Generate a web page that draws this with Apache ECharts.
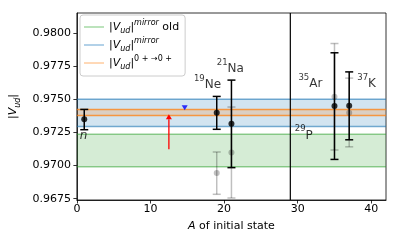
<!DOCTYPE html>
<html><head><meta charset="utf-8">
<script src="https://cdn.jsdelivr.net/npm/echarts@6/dist/echarts.min.js"></script>
<style>html,body{margin:0;padding:0;background:#fff}#c{width:399px;height:243px}</style>
</head><body><div id="c"></div>
<script>
const FONT = 'DejaVu Sans';
// axes
const xRange = [0, 42];
const yRange = [0.9674, 0.9815];
const xTickValues = [0, 10, 20, 30, 40];
const yTickValues = [0.9675, 0.9700, 0.9725, 0.9750, 0.9775, 0.9800];

// bands (legend order)
const bandNames = ['mirror_old', 'mirror', 'ft'];
const bandLow  = [0.96991, 0.97295, 0.97378];
const bandHigh = [0.97235, 0.97500, 0.97423];

// new values (black)
const nuclA    = [1, 19, 21, 35, 37];
const vudNew   = [0.97348, 0.97398, 0.97315, 0.97448, 0.97451];
const errLoNew = [0.97270, 0.97273, 0.96984, 0.97046, 0.97194];
const errHiNew = [0.97423, 0.97521, 0.97644, 0.97850, 0.97706];

// old values (grey)
const oldA     = [19, 21, 35, 37];
const vudOld   = [0.96944, 0.97099, 0.97519, 0.97398];
const errLoOld = [0.96783, 0.96755, 0.97117, 0.97141];
const errHiOld = [0.97102, 0.97441, 0.97920, 0.97659];

// 29P: red arrow (lower limit) and blue marker
const arrowA = 12.5, arrowFrom = 0.97123, arrowTo = 0.97386;
const markerA = 14.65, markerV = 0.97436;
const dividerA = 29;

// nucleus labels: text, anchor A, anchor value
const labelText = ['{it|n}', '{sup|19}{t|Ne}', '{sup|21}{t|Na}', '{sup|35}{t|Ar}', '{sup|37}{t|K}', '{sup|29}{t|P}'];
const labelA    = [0.4, 15.9, 19.0, 30.1, 38.1, 29.6];
const labelV    = [0.97180, 0.97561, 0.97681, 0.97569, 0.97569, 0.97180];

const bandColors = [
  {line: 'rgba(44,160,44,0.5)', fill: 'rgba(44,160,44,0.2)', legend: '#8fd18f'},
  {line: 'rgba(31,119,180,0.6)', fill: 'rgba(31,119,180,0.2)', legend: '#7fb2d9'},
  {line: 'rgba(255,127,14,0.75)', fill: 'rgba(255,127,14,0.2)', legend: '#ffbf86'}
];
const legendText = {
  mirror_old: '{n||}{i|V}{sub|ud}{n||}{sup|mirror}{n| old}',
  mirror: '{n||}{i|V}{sub|ud}{n||}{sup|mirror}',
  ft: '{n||}{i|V}{sub|ud}{n||}{supn|0 + →0 +}'
};
const richMath = {
  n: {fontFamily: FONT, fontSize: 11, color: '#000', lineHeight: 16, verticalAlign: 'middle'},
  i: {fontFamily: FONT, fontSize: 11, color: '#000', fontStyle: 'italic', lineHeight: 16, verticalAlign: 'middle'},
  sub: {fontFamily: FONT, fontSize: 8, color: '#000', fontStyle: 'italic', verticalAlign: 'bottom'},
  sup: {fontFamily: FONT, fontSize: 8, color: '#000', fontStyle: 'italic', verticalAlign: 'top'},
  supn: {fontFamily: FONT, fontSize: 8, color: '#000', verticalAlign: 'top'}
};

function errRender(color, width) {
  return function (params, api) {
    const x = api.value(0), lo = api.value(2), hi = api.value(3);
    const a = api.coord([x, lo]), b = api.coord([x, hi]);
    const cw = 4;
    const style = {stroke: color, lineWidth: width, fill: null};
    return {type: 'group', children: [
      {type: 'line', shape: {x1: a[0], y1: a[1], x2: b[0], y2: b[1]}, style},
      {type: 'line', shape: {x1: a[0]-cw, y1: a[1], x2: a[0]+cw, y2: a[1]}, style},
      {type: 'line', shape: {x1: b[0]-cw, y1: b[1], x2: b[0]+cw, y2: b[1]}, style}
    ]};
  };
}

const series = [];
bandNames.forEach((nm, k) => {
  series.push({
    name: nm, type: 'custom', silent: true, z: 1 + k,
    itemStyle: {color: bandColors[k].legend},
    data: [[xRange[0], bandLow[k], bandHigh[k]]],
    encode: {x: 0, y: [1, 2]},
    renderItem: function (params, api) {
      const cs = params.coordSys;
      const yl = api.coord([xRange[0], api.value(1)])[1];
      const yh = api.coord([xRange[0], api.value(2)])[1];
      const ls = {stroke: bandColors[k].line, lineWidth: 1.5, fill: null};
      return {type: 'group', children: [
        {type: 'rect', shape: {x: cs.x, y: yh, width: cs.width, height: yl - yh}, style: {fill: bandColors[k].fill}},
        {type: 'line', shape: {x1: cs.x, y1: yl, x2: cs.x + cs.width, y2: yl}, style: ls},
        {type: 'line', shape: {x1: cs.x, y1: yh, x2: cs.x + cs.width, y2: yh}, style: ls}
      ]};
    }
  });
});
// vertical divider
series.push({
  type: 'custom', silent: true, z: 4,
  data: [[dividerA, yRange[0]]], encode: {x: 0, y: 1},
  renderItem: function (params, api) {
    const cs = params.coordSys;
    const x = api.coord([api.value(0), yRange[0]])[0];
    return {type: 'line', shape: {x1: x, y1: cs.y, x2: x, y2: cs.y + cs.height}, style: {stroke: '#000', lineWidth: 1.2}};
  }
});
// red arrow
series.push({
  type: 'custom', silent: true, z: 5,
  data: [[arrowA, arrowFrom, arrowTo]], encode: {x: 0, y: [1, 2]},
  renderItem: function (params, api) {
    const a = api.coord([api.value(0), api.value(1)]);
    const b = api.coord([api.value(0), api.value(2)]);
    const hw = 3, hh = 5;
    return {type: 'group', children: [
      {type: 'line', shape: {x1: a[0], y1: a[1], x2: b[0], y2: b[1] + hh}, style: {stroke: '#ff0000', lineWidth: 1.3}},
      {type: 'polygon', shape: {points: [[b[0], b[1]], [b[0] - hw, b[1] + hh], [b[0] + hw, b[1] + hh]]}, style: {fill: '#ff0000'}}
    ]};
  }
});
series.push({
  type: 'scatter', data: [[markerA, markerV]], symbol: 'triangle', symbolRotate: 180,
  symbolSize: [6, 5], itemStyle: {color: '#0000ff'}, z: 6, silent: true
});
series.push({
  type: 'custom', renderItem: errRender('rgba(0,0,0,0.25)', 1.5),
  data: oldA.map((a, k) => [a, vudOld[k], errLoOld[k], errHiOld[k]]),
  encode: {x: 0, y: 1}, z: 7, silent: true
});
series.push({
  type: 'scatter', data: oldA.map((a, k) => [a, vudOld[k]]), symbolSize: 6,
  itemStyle: {color: 'rgba(0,0,0,0.3)'}, z: 7, silent: true
});
series.push({
  type: 'custom', renderItem: errRender('#000', 1.5),
  data: nuclA.map((a, k) => [a, vudNew[k], errLoNew[k], errHiNew[k]]),
  encode: {x: 0, y: 1}, z: 8, silent: true
});
series.push({
  type: 'scatter', data: nuclA.map((a, k) => [a, vudNew[k]]), symbolSize: 6,
  itemStyle: {color: '#000'}, z: 9, silent: true
});
series.push({
  type: 'scatter', silent: true, symbolSize: 0, z: 10,
  data: labelText.map((t, k) => ({value: [labelA[k], labelV[k]], name: t})),
  label: {show: true, position: [0, 0], align: 'left', verticalAlign: 'bottom',
    formatter: p => p.name,
    rich: {
      t: {fontFamily: FONT, fontSize: 12, color: '#000', lineHeight: 17, verticalAlign: 'bottom'},
      it: {fontFamily: FONT, fontSize: 12, color: '#000', fontStyle: 'italic', lineHeight: 17, verticalAlign: 'bottom'},
      sup: {fontFamily: FONT, fontSize: 8.5, color: '#000', verticalAlign: 'top'}
    }}
});

const chart = echarts.init(document.getElementById('c'), null, {renderer: 'canvas'});
chart.setOption({
  animation: false,
  backgroundColor: '#fff',
  grid: {left: 76, right: 13, top: 13, bottom: 43, show: true, borderColor: '#000', borderWidth: 0.8, backgroundColor: 'transparent'},
  legend: {
    data: bandNames, orient: 'vertical', left: 80, top: 15,
    icon: 'rect', itemWidth: 20, itemHeight: 1.2, itemGap: 2,
    padding: [4, 6, 5, 4],
    backgroundColor: 'rgba(255,255,255,0.8)', borderColor: '#ccc', borderWidth: 1, borderRadius: 3,
    formatter: n => legendText[n],
    textStyle: {fontFamily: FONT, fontSize: 11, color: '#000', rich: richMath},
    selectedMode: false
  },
  xAxis: {
    type: 'value', min: xRange[0], max: xRange[1],
    name: '{i|A}{n| of initial state}', nameLocation: 'middle', nameGap: 18,
    nameTextStyle: {fontFamily: FONT, fontSize: 11, color: '#000', rich: richMath},
    axisLine: {show: true, lineStyle: {color: '#000', width: 0.8}},
    axisTick: {show: true, length: 3.5, lineStyle: {color: '#000', width: 0.8}, customValues: xTickValues},
    axisLabel: {fontFamily: FONT, fontSize: 11, color: '#000', margin: 4, customValues: xTickValues},
    splitLine: {show: false}
  },
  yAxis: {
    type: 'value', min: yRange[0], max: yRange[1],
    name: '{n||}{i|V}{sub|ud}{n||}', nameLocation: 'middle', nameGap: 45, nameRotate: 90,
    nameTextStyle: {fontFamily: FONT, fontSize: 11, color: '#000', rich: richMath},
    axisLine: {show: true, lineStyle: {color: '#000', width: 0.8}},
    axisTick: {show: true, length: 3.5, lineStyle: {color: '#000', width: 0.8}, customValues: yTickValues},
    axisLabel: {fontFamily: FONT, fontSize: 11, color: '#000', margin: 6, customValues: yTickValues, formatter: v => v.toFixed(4)},
    splitLine: {show: false}
  },
  series: series
});
</script></body></html>
